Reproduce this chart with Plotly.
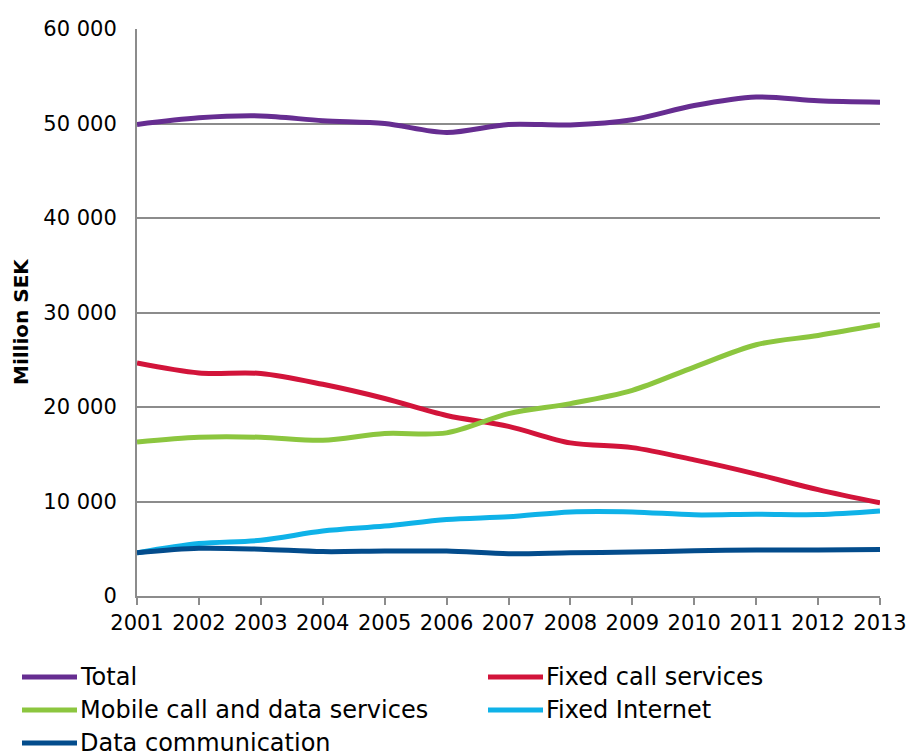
import plotly.graph_objects as go

years = list(range(2001, 2014))

total = [49900, 50600, 50800, 50300, 50000, 49050, 49900, 49850, 50400, 51900, 52800, 52400, 52250]
fixed_call = [24650, 23600, 23550, 22400, 20900, 19100, 17950, 16200, 15700, 14400, 12900, 11250, 9850]
mobile = [16300, 16800, 16800, 16480, 17190, 17260, 19300, 20360, 21760, 24230, 26590, 27570, 28700]
fixed_internet = [4580, 5550, 5900, 6870, 7400, 8100, 8380, 8900, 8900, 8590, 8660, 8620, 9000]
data_comm = [4580, 5040, 4950, 4700, 4750, 4750, 4480, 4580, 4650, 4790, 4860, 4860, 4930]

series = [
    ("Total", total, "#662D91"),
    ("Fixed call services", fixed_call, "#D2143A"),
    ("Mobile call and data services", mobile, "#8CC63F"),
    ("Fixed Internet", fixed_internet, "#0FB2E8"),
    ("Data communication", data_comm, "#034C8C"),
]

y_ticks = [0, 10000, 20000, 30000, 40000, 50000, 60000]
y_tick_text = ["0", "10 000", "20 000", "30 000", "40 000", "50 000", "60 000"]

FONT = "DejaVu Sans, Verdana, sans-serif"
GRID = "#8C8C8C"
PW, PH = 743, 567  # plot area size in pixels

fig = go.Figure()
for name, vals, color in series:
    fig.add_trace(go.Scatter(
        x=years, y=vals, name=name, mode="lines",
        line=dict(color=color, width=5, shape="spline", smoothing=0.9),
        showlegend=False,
    ))

# legend drawn as two columns of line samples and labels below the plot
col_x = [(22 - 137) / PW, (488 - 137) / PW]
sample_len = 55 / PW
for i, (name, vals, color) in enumerate(series):
    row, col = divmod(i, 2)
    y = (596 - (677 + 33 * row)) / PH
    x0 = col_x[col]
    fig.add_shape(type="line", xref="paper", yref="paper",
                  x0=x0, x1=x0 + sample_len, y0=y, y1=y,
                  line=dict(color=color, width=5))
    fig.add_annotation(xref="paper", yref="paper", x=x0 + sample_len + 1 / PW, y=y,
                       text=name, showarrow=False, xanchor="left", yanchor="middle",
                       font=dict(family=FONT, size=24, color="#000000"))

fig.add_annotation(xref="paper", yref="paper", x=(21 - 137) / PW, y=(596 - 322) / PH,
                   text="<b>Million SEK</b>", textangle=-90, showarrow=False,
                   xanchor="center", yanchor="middle",
                   font=dict(family=FONT, size=20, color="#000000"))

fig.update_layout(
    width=908, height=753,
    margin=dict(l=137, r=28, t=29, b=157),
    paper_bgcolor="white", plot_bgcolor="white",
    font=dict(family=FONT, size=21, color="#000000"),
    showlegend=False,
)
fig.update_xaxes(
    range=[2001, 2013], tickmode="array", tickvals=years,
    ticktext=[str(y) for y in years], automargin=False,
    showgrid=False, zeroline=False,
    showline=True, linecolor=GRID, linewidth=2,
    ticks="outside", ticklen=7, tickwidth=2, tickcolor=GRID,
    tickfont=dict(family=FONT, size=21, color="#000000"),
)
fig.update_yaxes(
    range=[0, 60000], tickmode="array", tickvals=y_ticks, ticktext=y_tick_text,
    automargin=False,
    showgrid=True, gridcolor=GRID, gridwidth=1.5, zeroline=False,
    showline=True, linecolor=GRID, linewidth=2,
    ticks="", ticklabelstandoff=14,
    tickfont=dict(family=FONT, size=21, color="#000000"),
)

fig.write_html("out.html")
